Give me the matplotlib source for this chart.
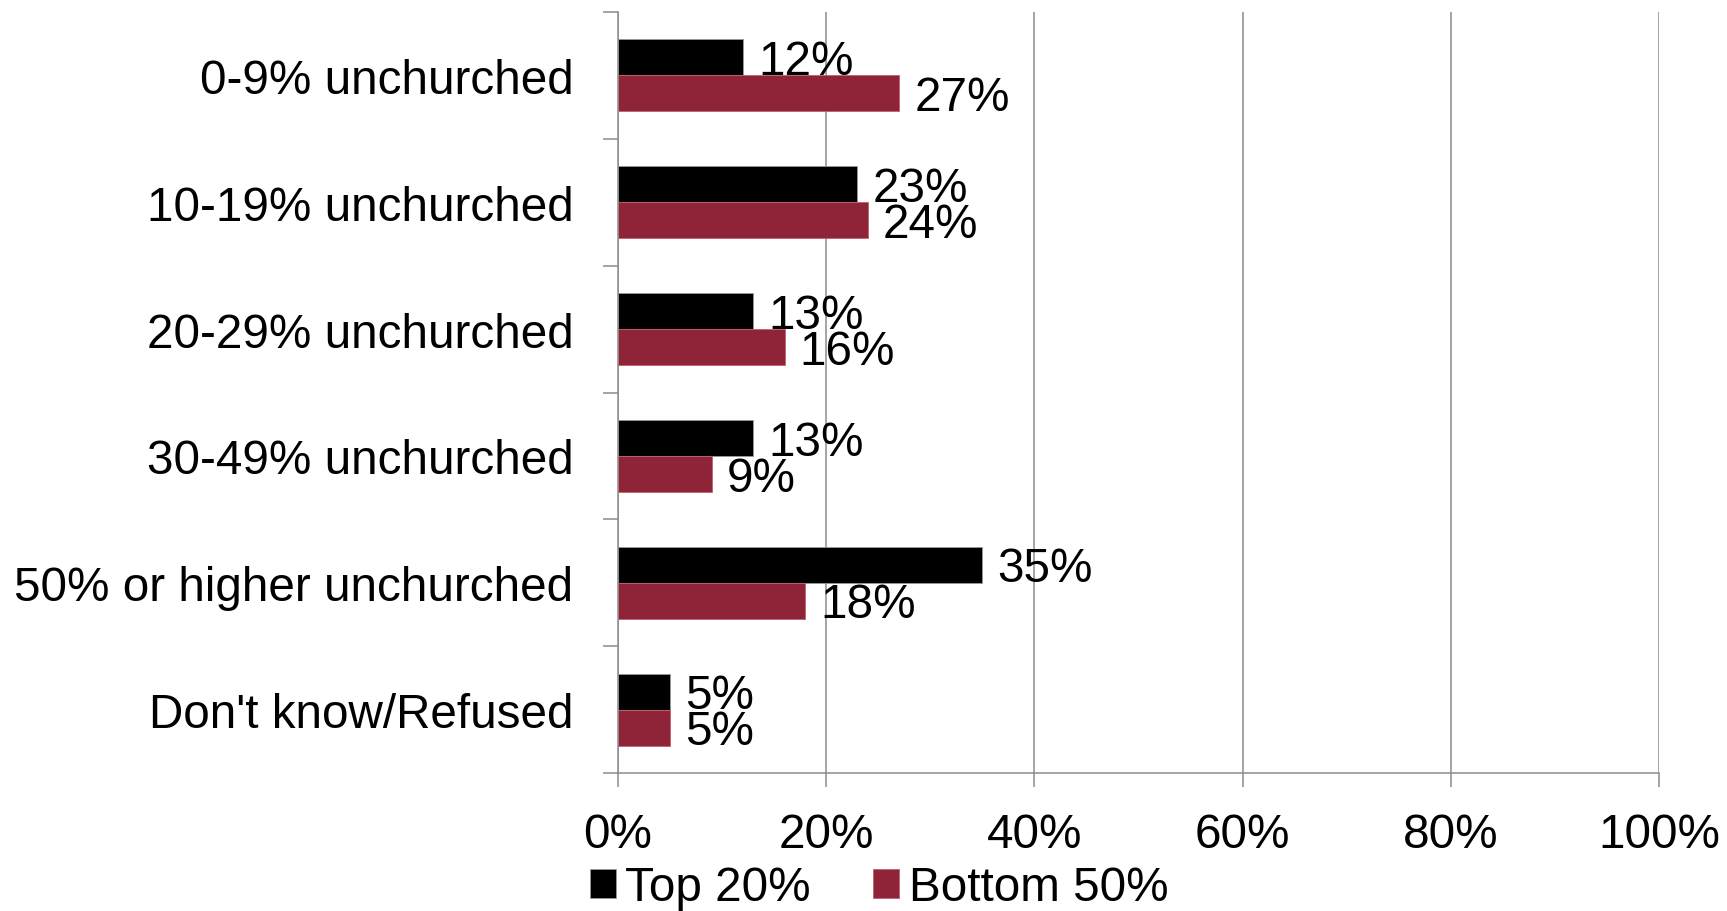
import numpy as np
import matplotlib.pyplot as plt
from matplotlib.ticker import FixedLocator, PercentFormatter

plt.rcParams['font.family'] = ['Liberation Sans', 'DejaVu Sans']

#<---------------- datos ---------------->
categorias = ["0-9% unchurched", "10-19% unchurched", "20-29% unchurched",
              "30-49% unchurched", "50% or higher unchurched", "Don't know/Refused"]
top20 = [12, 23, 13, 13, 35, 5]
bottom50 = [27, 24, 16, 9, 18, 5]
series = ["Top 20%", "Bottom 50%"]
colores = ["#000000", "#8F2439"]

gris = "#8c8c8c"
fs = 34.3

fig = plt.figure(figsize=(17.27, 9.12), dpi=100)
ax = fig.add_axes([618/1727, 1-774/912, (1659-618)/1727, (774-13)/912])

y = np.arange(len(categorias))
h = 0.284
b1 = ax.barh(y - h/2, top20, height=h, color=colores[0], edgecolor="#9a9a9a", linewidth=0.6, label=series[0])
b2 = ax.barh(y + h/2, bottom50, height=h, color=colores[1], edgecolor="#c06070", linewidth=0.6, label=series[1])

#<---------------- etiquetas de datos ---------------->
for barras, vals in [(b1, top20), (b2, bottom50)]:
    for r, v in zip(barras, vals):
        ax.annotate(f"{v}%", (r.get_width(), r.get_y() + r.get_height()/2),
                    xytext=(11, -3), textcoords="offset points",
                    va="center", ha="left", fontsize=fs)

#<---------------- ejes ---------------->
ax.set_xlim(0, 100)
ax.set_ylim(len(categorias) - 0.5, -0.5)
ax.set_xticks(np.arange(0, 101, 20))
ax.xaxis.set_major_formatter(PercentFormatter(decimals=0))
ax.tick_params(axis="x", labelsize=fs, length=10, width=1.1, color=gris, pad=18)
ax.set_yticks(y)
ax.set_yticklabels(categorias)
ax.tick_params(axis="y", which="major", labelsize=fs, length=0, pad=32)
ax.yaxis.set_minor_locator(FixedLocator(np.arange(-0.5, len(categorias), 1)))
ax.tick_params(axis="y", which="minor", length=11, width=1.1, color=gris)
ax.grid(axis="x", color=gris, linewidth=1.1)
ax.set_axisbelow(True)
for s in ["top", "right"]:
    ax.spines[s].set_visible(False)
for s in ["left", "bottom"]:
    ax.spines[s].set_color(gris)
    ax.spines[s].set_linewidth(1.1)

#<---------------- leyenda ---------------->
fig.legend(handles=[b1, b2], labels=series, loc="center", bbox_to_anchor=(879/1727, 1-889/912),
           ncol=2, frameon=False, fontsize=fs, handlelength=0.55, handleheight=0.55,
           handletextpad=0.2, columnspacing=1.3, borderpad=0)

fig.savefig("out.png", dpi=100)
